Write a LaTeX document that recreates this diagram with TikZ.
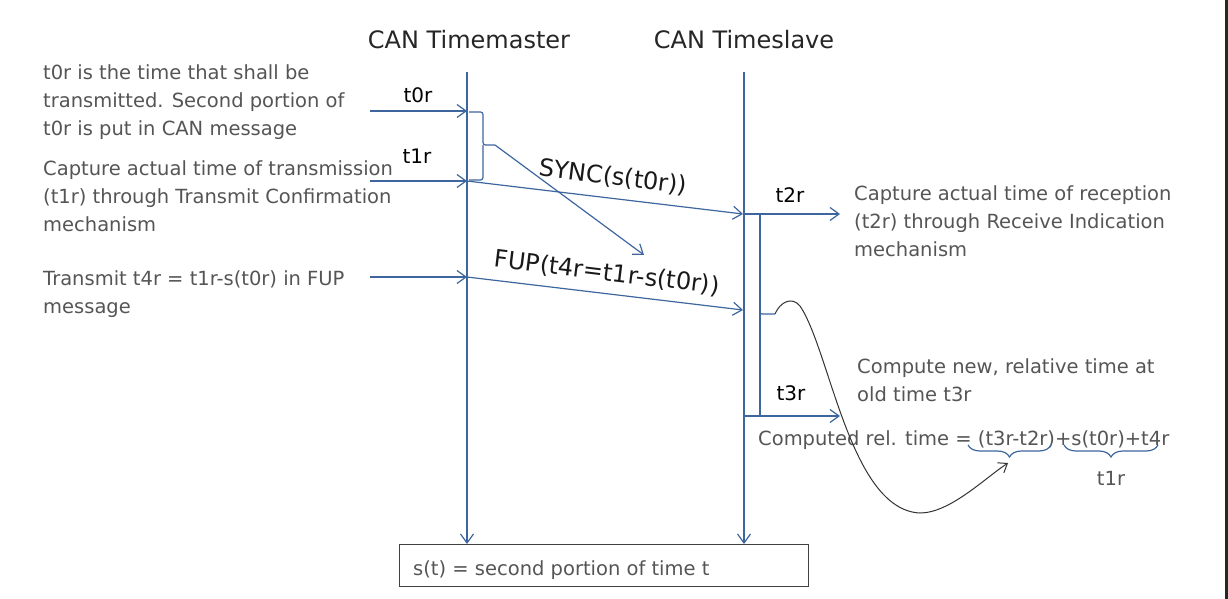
\documentclass[tikz,border=0pt]{standalone}
\usepackage{fontspec}
\setmainfont{DejaVu Sans}
\usetikzlibrary{arrows.meta,decorations.pathreplacing}
\definecolor{lineblue}{RGB}{62,102,158}
\definecolor{desctext}{RGB}{85,85,85}
\begin{document}
\begin{tikzpicture}[x=1pt,y=-1pt,
  conn/.style={draw=lineblue, line width=1.2pt},
  arr/.style={conn, -{Straight Barb[length=9pt,width=13pt]}},
  desc/.style={anchor=north west, inner sep=0pt, align=left, text=desctext, font=\fontsize{19.5}{28.3}\selectfont},
  lbl/.style={anchor=base, inner sep=0pt, font=\fontsize{20}{24}\selectfont, text=black},
  hdr/.style={anchor=base, inner sep=0pt, font=\fontsize{24}{28}\selectfont, text=black!85},
  msg/.style={inner sep=0pt, font=\fontsize{24}{28}\selectfont, text=black!90, rotate=-7}]
\useasboundingbox (0,0) rectangle (1228,599);
\fill[black!85] (1225,0) rectangle (1228,599);

% headers
\node[hdr] (hm) at (469,49) {CAN Timemaster};
\node[hdr] (hs) at (744,49) {CAN Timeslave};

% bottom box
\node[draw=black!75, line width=1.2pt, minimum width=409pt, minimum height=42pt, anchor=north west, inner sep=0pt] (box) at (399,544) {};
\node[anchor=base west, inner sep=0pt, text=desctext, font=\fontsize{19.5}{24}\selectfont] (boxt) at (413,575) {s(t) = second portion of time t};

% lifelines
\coordinate (mtop) at (467,72);
\coordinate (stop) at (744,72);
\coordinate (mbot) at (467,544);
\coordinate (sbot) at (744,544);
\draw[arr] (mtop) -- (mbot);
\draw[arr] (stop) -- (sbot);

% left descriptions
\node[desc] (dA) at (43,64) {t0r is the time that shall be\\transmitted. Second portion of\\t0r is put in CAN message};
\node[desc] (dB) at (43,160) {Capture actual time of transmission\\(t1r) through Transmit Confirmation\\mechanism};
\node[desc] (dC) at (43,270) {Transmit t4r = t1r-s(t0r) in FUP\\message};

% incoming arrows on master
\coordinate (a0s) at (370,111); \coordinate (a0e) at (467,111);
\coordinate (a1s) at (370,181); \coordinate (a1e) at (467,181);
\coordinate (a4s) at (370,277); \coordinate (a4e) at (467,277);
\draw[arr] (a0s) -- (a0e);
\draw[arr] (a1s) -- (a1e);
\draw[arr] (a4s) -- (a4e);
\node[lbl] (l0) at (418,103) {t0r};
\node[lbl] (l1) at (417,163) {t1r};

% brace on master side
\coordinate (btip) at (495,145);
\draw[conn, rounded corners=2.5pt] (469,112) -| (483,145) -- (btip);
\draw[conn, rounded corners=2.5pt] (469,180) -| (483,145);
\coordinate (dgend) at (644,255);
\draw[arr] (btip) -- (dgend);

% messages
\coordinate (syncend) at (743,214);
\coordinate (fupend) at (743,310);
\draw[arr] (a1e) -- (syncend);
\draw[arr] (a4e) -- (fupend);
\node[msg] (sync) at (613,177) {SYNC(s(t0r))};
\node[msg] (fup) at (607,273) {FUP(t4r=t1r-s(t0r))};

% slave side
\coordinate (t2e) at (840,214);
\coordinate (t3s) at (744,416);
\coordinate (t3e) at (840,416);
\draw[arr] (syncend) -- (t2e);
\draw[arr] (t3s) -- (t3e);
\node[lbl] (l2) at (790,202) {t2r};
\node[lbl] (l3) at (791,400) {t3r};
\coordinate (stip) at (775,314);
\draw[conn] (760,214) -- (760,416);
\draw[conn, rounded corners=2pt] (760,311) -- (760,314) -- (stip);

% right descriptions
\node[desc] (dD) at (854,185) {Capture actual time of reception\\(t2r) through Receive Indication\\mechanism};
\node[desc] (dE) at (857,358) {Compute new, relative time at\\old time t3r};
\node[anchor=base west, inner sep=0pt, text=desctext, font=\fontsize{19.5}{24}\selectfont] (dF) at (758,445) {Computed rel. time = (t3r-t2r)+s(t0r)+t4r};

% under braces
\draw[conn, decorate, decoration={brace, mirror, amplitude=12pt}] (968,445) -- (1051,445);
\draw[conn, decorate, decoration={brace, mirror, amplitude=12pt}] (1064,445) -- (1158,445);
\node[anchor=base, inner sep=0pt, text=desctext, font=\fontsize{19.5}{24}\selectfont] (t1b) at (1111,485) {t1r};

% black curve
\coordinate (cend) at (1008,463);
\draw[black!80, line width=1pt, -{Straight Barb[length=8pt,width=12pt]}] (stip) .. controls (780,302) and (792,296) .. (800,306) .. controls (830,350) and (850,510) .. (920,513) .. controls (950,513) and (985,478) .. (cend);
\end{tikzpicture}
\end{document}
